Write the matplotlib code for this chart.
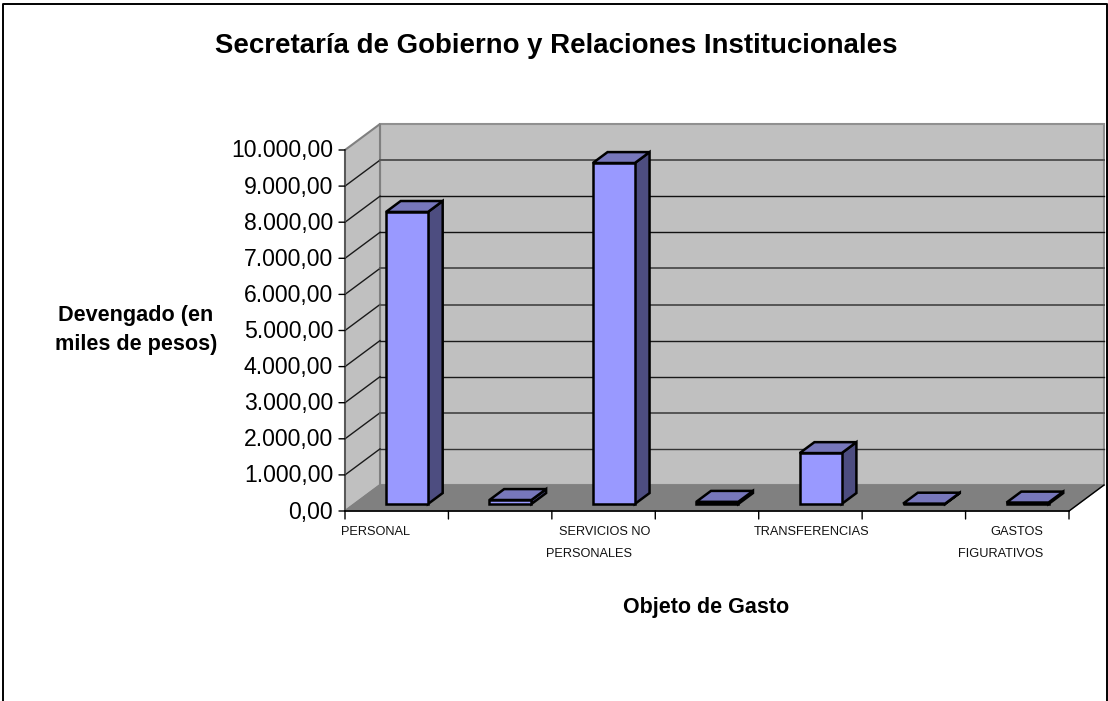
import matplotlib
matplotlib.use('Agg')
import matplotlib.pyplot as plt
from matplotlib.lines import Line2D
from matplotlib.patches import Polygon

plt.rcParams['font.family'] = ['Liberation Sans', 'DejaVu Sans']

#data
values = [8090, 110, 9445, 60, 1410, 10, 40]
yticks = [0, 1000, 2000, 3000, 4000, 5000, 6000, 7000, 8000, 9000, 10000]
ytick_labels = ['0,00', '1.000,00', '2.000,00', '3.000,00', '4.000,00', '5.000,00',
                '6.000,00', '7.000,00', '8.000,00', '9.000,00', '10.000,00']
cat_lines = ['PERSONAL', 'SERVICIOS NO', 'PERSONALES', 'TRANSFERENCIAS', 'GASTOS', 'FIGURATIVOS']
cat_right = [410, 650, 632, 869, 1043, 1043]
cat_y = [532, 532, 554, 532, 532, 554]
#gridlines 1000..9000 come out slightly different in the picture
grid_colors = ['#333333', '#555555', '#1a1a1a', '#1a1a1a', '#555555', '#555555', '#111111', '#111111', '#555555']
grid_widths = [1.0, 1.4, 1.0, 1.0, 1.4, 1.4, 1.0, 1.0, 1.4]

W, H = 1108, 701
x0, x1 = 345, 1069   # front edge of the floor, pixels
y0, y1 = 511, 150    # front axis, pixels
back_dx, back_dy = 35, 26   # how far the back wall sits from the front
n = len(values)
ymax = yticks[-1]

fig = plt.figure(figsize=(W / 100, H / 100), dpi=100, facecolor='w')
ax = fig.add_axes([x0 / W, 1 - y0 / H, (x1 - x0) / W, (y0 - y1) / H])
ax.set_xlim(0, n)
ax.set_ylim(0, ymax)
ax.axis('off')

dx_unit = back_dx / ((x1 - x0) / n)
dy_unit = back_dy / ((y0 - y1) / ymax)


def pt(x, v, d=0.0):
    # project a point at depth d (0 front, 1 back wall) to data coords
    return (x + d * dx_unit, v + d * dy_unit)


def face(points, **kw):
    ax.add_patch(Polygon(points, closed=True, clip_on=False, **kw))


#walls and floor
face([pt(0, 0, 1), pt(n, 0, 1), pt(n, ymax, 1), pt(0, ymax, 1)],
     facecolor='#c0c0c0', edgecolor='#909090', linewidth=1.5, zorder=1)
face([pt(0, 0), pt(0, 0, 1), pt(0, ymax, 1), pt(0, ymax)],
     facecolor='#c0c0c0', edgecolor='#808080', linewidth=1.5, zorder=1)
face([pt(0, 0), pt(n, 0), pt(n, 0, 1), pt(0, 0, 1)],
     facecolor='#808080', edgecolor='#808080', linewidth=1, zorder=1)

#gridlines along side wall and back wall
for t, col, lw in zip(yticks[1:-1], grid_colors, grid_widths):
    a, b, c = pt(0, t), pt(0, t, 1), pt(n, t, 1)
    ax.plot([a[0], b[0]], [a[1], b[1]], color='#1a1a1a', lw=1, clip_on=False, zorder=2)
    ax.plot([b[0], c[0]], [b[1], c[1]], color=col, lw=lw, clip_on=False, zorder=2)

#front axes and ticks
ax.plot([0, 0], [0, ymax], color='#555555', lw=1.3, clip_on=False, zorder=3)
ax.plot([0, n], [0, 0], color='black', lw=1.2, clip_on=False, zorder=3)
ax.plot([n, pt(n, 0, 1)[0]], [0, pt(n, 0, 1)[1]], color='black', lw=1,
        clip_on=False, zorder=3)
for t, lab in zip(yticks, ytick_labels):
    ax.annotate('', xy=(0, t), xytext=(-6, 0), textcoords='offset pixels',
                arrowprops=dict(arrowstyle='-', color='black', lw=1, shrinkA=0, shrinkB=0))
    ax.annotate(lab, xy=(0, t), xytext=(-12, -1), textcoords='offset pixels',
                ha='right', va='center', fontsize=16.6, color='black')
for i in range(n + 1):
    ax.annotate('', xy=(i, 0), xytext=(0, -8), textcoords='offset pixels',
                arrowprops=dict(arrowstyle='-', color='black', lw=1, shrinkA=0, shrinkB=0))

#bars
d_a, d_b = 0.27, 0.69
bar_w = 0.406
for i, v in enumerate(values):
    l = i + 0.508 - bar_w / 2
    r = l + bar_w
    style = dict(edgecolor='black', linewidth=1.8, joinstyle='miter', zorder=5)
    face([pt(r, 0, d_a), pt(r, 0, d_b), pt(r, v, d_b), pt(r, v, d_a)], facecolor='#4d4d80', **style)
    face([pt(l, v, d_a), pt(r, v, d_a), pt(r, v, d_b), pt(l, v, d_b)], facecolor='#7777bb', **style)
    fx, fy = pt(l, 0, d_a)
    ax.bar(fx, v, bar_w, bottom=fy, align='edge', facecolor='#9999ff', clip_on=False, **style)

#category labels
for lab, xr, yp in zip(cat_lines, cat_right, cat_y):
    fig.text(xr / W, 1 - yp / H, lab, ha='right', va='center', fontsize=9.2, color='#111111')

#titles
fig.text(556.5 / W, 1 - 46 / H, 'Secretaría de Gobierno y Relaciones Institucionales',
         ha='center', va='center', fontsize=19.9, fontweight='bold')
fig.text(136 / W, 1 - 330 / H, 'Devengado (en\nmiles de pesos)', ha='center', va='center',
         fontsize=15.6, fontweight='bold', linespacing=1.5)
fig.text(706 / W, 1 - 607 / H, 'Objeto de Gasto', ha='center', va='center',
         fontsize=15.5, fontweight='bold')

#outer frame: top, left, right only, the bottom edge is cut off in the picture
frame_x = [2.5 / W, 2.5 / W, 1106.5 / W, 1106.5 / W]
frame_y = [0, 1 - 3.5 / H, 1 - 3.5 / H, 0]
fig.add_artist(Line2D(frame_x, frame_y, transform=fig.transFigure, color='black', linewidth=1.4))

plt.savefig('out.png', dpi=100, facecolor='w')
